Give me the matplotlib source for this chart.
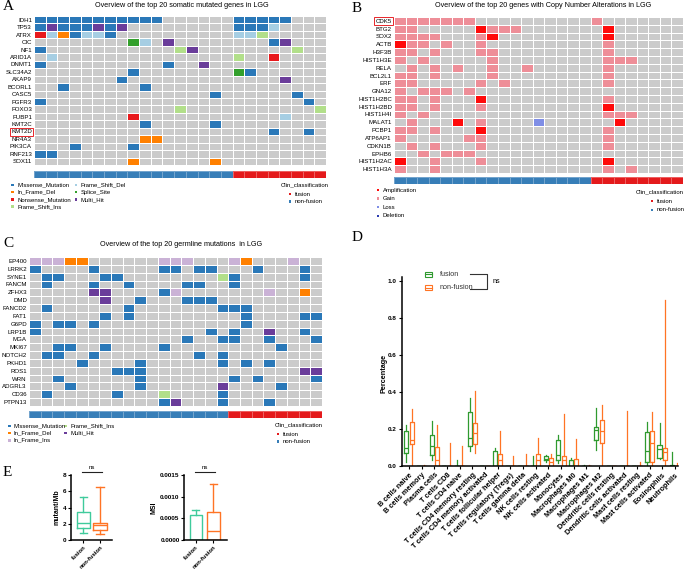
import matplotlib
matplotlib.use('Agg')
import matplotlib.pyplot as plt
from matplotlib.colors import ListedColormap
from matplotlib.patches import Rectangle
import numpy as np

plt.rcParams['font.family'] = ['Liberation Sans', 'DejaVu Sans']

W, H = 685, 569

# ---------------- data ----------------
# 17 non-fusion samples, then 8 fusion samples ('|' only marks the split)
clin = ['non-fusion'] * 17 + ['fusion'] * 8

somatic_genes = ['IDH1', 'TP53', 'ATRX', 'CIC', 'NF1', 'ARID1A', 'DNMT1', 'SLC34A2', 'AKAP9',
                 'BCORL1', 'CASC5', 'FGFR3', 'FOXO3', 'FUBP1', 'KMT2C', 'KMT2D', 'NR4A3',
                 'PIK3CA', 'RNF213', 'SOX11']
somatic_rows = [
    'MMMMMMMMMMM......|MMMMM...',
    'MHMMMHMH.........|MMMF....',
    'NFDMFFM..........|FFI.....',
    '........SF.H.....|...MH...',
    'M...........IH...|.....I..',
    '.F...............|I..N....',
    'M..........M..H..|........',
    '........M........|SM......',
    '.......M.........|....H...',
    '..M......M.......|........',
    '...............M.|.....M..',
    'M................|......M.',
    '............I....|.......I',
    '........N........|....F...',
    '.........M.....M.|........',
    '.................|...M..M.',
    '.........DD......|........',
    '...M....M........|........',
    'MM...............|........',
    '........D......D.|........',
]

cnv_genes = ['CDK5', 'BTG2', 'SOX2', 'ACTB', 'H3F3B', 'HIST1H3E', 'RELA', 'BCL2L1', 'ERF',
             'GNA12', 'HIST1H2BC', 'HIST1H2BD', 'HIST1H4I', 'MALAT1', 'PCBP1', 'ATP6AP1',
             'CDKN1B', 'EPHB6', 'HIST1H2AC', 'HIST1H3A']
cnv_rows = [
    'GGGGGGG..........|G.......',
    'GG.....AGGG......|.A......',
    'GGGG...GA........|.A......',
    'AGG.G..G.........|.G......',
    'GG.G...GG........|.G......',
    'G.G.....G........|.GGG....',
    '.G.G.G..G..G.....|.G......',
    'GG.G....G........|.G......',
    'GG.....G.G.......|.G......',
    'G.GGG.G..........|........',
    'GG.G...A.........|.G......',
    'GG.G...G.........|.A......',
    'G.G..............|.GGG....',
    '.G...A.G....L....|..A.....',
    'GG.G...A.........|.G......',
    'G.....GG.........|.G......',
    '.G.G...G.........|.G......',
    '..G.GGG..........|........',
    'A..G...G.........|.A......',
    'G..G.............|.G.G....',
]

germ_genes = ['EP400', 'LRRK2', 'SYNE1', 'FANCM', 'ZFHX3', 'DMD', 'FANCD2', 'FAT1', 'G6PD',
              'LRP1B', 'MGA', 'MKI67', 'NOTCH2', 'PKHD1', 'ROS1', 'WRN', 'ADGRL3', 'CD36',
              'PTPN13']
germ_rows = [
    'LLLDD......LLL...|LD...L..',
    'M....M.....MM.MM.|..M...M.',
    '.MM...MM........I|M.....M.',
    '.M...M..M....MM..|M.......',
    '.....HH....ML....|...L..D.',
    '......H..M...MMM.|........',
    '.M......M.......M|MM......',
    '......M.M........|.M....MM',
    'M.MM.M...........|.M......',
    'M..............M.|M..H..M.',
    '.............M..M|M..M...M',
    '..MM..M....M.....|....M...',
    '.MM..M........M.M|........',
    '....M....M......M|.M.M....',
    '.......MMM.......|......HH',
    '..M......M.......|M.M....M',
    '...M.....M......H|....M...',
    '.M.....M...I....M|........',
    '...........MH...M|...M....',
]

mut_names = {'M': 'Missense_Mutation', 'D': 'In_Frame_Del', 'N': 'Nonsense_Mutation',
             'I': 'Frame_Shift_Ins', 'F': 'Frame_Shift_Del', 'S': 'Splice_Site',
             'H': 'Multi_Hit', 'L': 'In_Frame_Ins'}
cnv_names = {'A': 'Amplification', 'G': 'Gain', 'L': 'Loss', 'X': 'Deletion'}

cells = ['B cells naive', 'B cells memory', 'Plasma cells', 'T cells CD8', 'T cells CD4 naive',
         'T cells CD4 memory resting', 'T cells CD4 memory activated',
         'T cells follicular helper', 'T cells regulatory (Tregs)', 'T cells gamma delta',
         'NK cells resting', 'NK cells activated', 'Monocytes', 'Macrophages M0',
         'Macrophages M1', 'Macrophages M2', 'Dendritic cells resting',
         'Dendritic cells activated', 'Mast cells resting', 'Mast cells activated',
         'Eosinophils', 'Neutrophils']
# (min, q1, median, q3, max)
fusion_cells = [
    (0.02, 0.07, 0.10, 0.19, 0.22), (0, 0, 0, 0, 0), (0.035, 0.06, 0.11, 0.17, 0.245),
    (0, 0, 0, 0, 0), (0, 0, 0, 0, 0.03), (0.08, 0.11, 0.15, 0.29, 0.365), (0, 0, 0, 0, 0),
    (0, 0, 0, 0.08, 0.10), (0, 0, 0, 0, 0), (0, 0, 0, 0, 0), (0, 0, 0, 0, 0.055),
    (0.02, 0.03, 0.04, 0.055, 0.06), (0.015, 0.03, 0.06, 0.14, 0.17), (0, 0, 0, 0.03, 0.045),
    (0, 0, 0, 0, 0.008), (0.085, 0.14, 0.195, 0.21, 0.315), (0, 0, 0, 0, 0), (0, 0, 0, 0, 0),
    (0, 0, 0, 0, 0), (0, 0.02, 0.08, 0.185, 0.24), (0.04, 0.045, 0.09, 0.115, 0.23),
    (0, 0, 0, 0.005, 0.075),
]
nonfusion_cells = [
    (0, 0.12, 0.14, 0.24, 0.31), (0, 0, 0, 0, 0.003), (0, 0, 0.03, 0.105, 0.22),
    (0, 0, 0, 0, 0.125), (0, 0, 0, 0, 0.11), (0.07, 0.12, 0.18, 0.235, 0.405), (0, 0, 0, 0, 0),
    (0, 0, 0.03, 0.065, 0.19), (0, 0, 0, 0, 0.055), (0, 0, 0, 0, 0.065), (0, 0, 0.03, 0.065, 0.15),
    (0, 0, 0.02, 0.045, 0.065), (0, 0, 0.035, 0.055, 0.28), (0, 0, 0, 0.04, 0.145),
    (0, 0, 0, 0, 0.008), (0, 0.125, 0.19, 0.25, 0.33), (0, 0, 0, 0, 0), (0, 0, 0, 0, 0.295),
    (0, 0, 0, 0, 0.02), (0, 0.02, 0.125, 0.19, 0.29), (0, 0.035, 0.075, 0.10, 0.90),
    (0, 0, 0, 0, 0.015),
]

groups = ['fusion', 'non-fusion']
tmb_stats = [(0.9, 1.45, 2.05, 3.5, 5.3), (0.8, 1.25, 1.8, 2.05, 6.55)]
msi_stats = [(0, 0, 0, 0.00058, 0.0007), (0, 0, 0.0002, 0.00065, 0.0013)]

# ---------------- styles ----------------
gray = '#cbcbcb'
mut_colors = {'M': '#2a78b8', 'D': '#ff8000', 'N': '#e8191c', 'I': '#b2df8a',
              'F': '#a6cee3', 'S': '#33a02c', 'H': '#6a3d9a', 'L': '#cab2d6'}
cnv_colors = {'A': '#ff0a0a', 'G': '#ee8e98', 'L': '#7f8ee6', 'X': '#2b3bb0'}
clin_colors = {'fusion': '#e41a1c', 'non-fusion': '#377eb8'}
green, orange = '#2f9a2f', '#ff7424'
teal = '#3fcb9c'

fig = plt.figure(figsize=(W / 100, H / 100), dpi=100)


def axes_px(x, y, w, h):
    return fig.add_axes([x / W, 1 - (y + h) / H, w / W, h / H])


# overlay in pixel coordinates for titles, labels and legends
ov = axes_px(0, 0, W, H)
ov.set_xlim(0, W)
ov.set_ylim(H, 0)
ov.axis('off')


def oncoplot(box, bar_y, genes, rows, colors, boxed=None):
    x, y, w, h = box
    ax = axes_px(x, y, w, h)
    keys = '.' + ''.join(colors)
    mat = np.array([[keys.index(c) for c in r.replace('|', '')] for r in rows])
    cmap = ListedColormap([gray] + list(colors.values()))
    ax.pcolormesh(mat, cmap=cmap, vmin=-0.5, vmax=len(keys) - 0.5,
                  edgecolors='white', linewidth=0.7)
    ax.set_xlim(0, mat.shape[1])
    ax.set_ylim(len(genes), 0)
    ax.set_yticks(np.arange(len(genes)) + 0.5, labels=genes, fontsize=4.4)
    ax.set_xticks([])
    ax.tick_params(length=0, pad=1.5)
    for s in ax.spines.values():
        s.set_visible(False)
    if boxed:
        for t in ax.get_yticklabels():
            if t.get_text() == boxed:
                t.set_bbox(dict(boxstyle='square,pad=0.25', fc='none', ec='#e8262a', lw=0.7))
    bx = axes_px(x, bar_y, w, 7)
    grp = np.array([[groups.index(c) for c in clin]])
    bx.pcolormesh(grp, cmap=ListedColormap([clin_colors[g] for g in groups]),
                  vmin=-0.5, vmax=1.5, edgecolors=(1, 1, 1, 0.3), linewidth=0.5)
    bx.axis('off')


def legend_items(items, x, y0, dy, size=4.3):
    for i, (name, col) in enumerate(items):
        yy = y0 + i * dy
        ov.add_patch(Rectangle((x - 1.2, yy - 1.2), 2.4, 2.4, color=col, lw=0))
        ov.text(x + 4.5, yy, name, fontsize=size, va='center', ha='left')


def clin_legend(x, y, mx, dy, ha='left'):
    ov.text(x, y, 'Clin_classification', fontsize=4.3, va='center', ha=ha)
    legend_items([('fusion', clin_colors['fusion']),
                  ('non-fusion', clin_colors['non-fusion'])], mx, y + 9, dy)


panel_font = dict(family=['Liberation Serif', 'DejaVu Serif'], fontsize=11, va='center')
title_font = dict(fontsize=5.2, ha='center', va='center')

# ---------------- A ----------------
ov.text(3, 6, 'A', **panel_font)
ov.text(182, 5, 'Overview of the top 20 somatic mutated genes in LGG', **title_font)
oncoplot((34, 16, 292, 149), 171, somatic_genes, somatic_rows,
         {k: mut_colors[k] for k in 'MDNIFSH'}, boxed='KMT2D')
legend_items([(mut_names[k], mut_colors[k]) for k in 'MDNI'], 12.7, 185, 7.2)
legend_items([(mut_names[k], mut_colors[k]) for k in 'FSH'], 76, 185, 7.2)
clin_legend(281, 185, 290, 7.4)

# ---------------- B ----------------
ov.text(352, 8, 'B', **panel_font)
ov.text(543, 5, 'Overview of the top 20 genes with Copy Number Alterations in LGG', **title_font)
oncoplot((394, 17, 289, 156), 177, cnv_genes, cnv_rows, cnv_colors, boxed='CDK5')
legend_items([(cnv_names[k], cnv_colors[k]) for k in 'AGLX'], 378, 190, 8.6)
clin_legend(684, 192, 652, 8.7, ha='right')

# ---------------- C ----------------
ov.text(3, 243, 'C', **panel_font)
ov.text(181, 244, 'Overview of the top 20 germline mutations  in LGG', **title_font)
oncoplot((29, 257, 293, 149), 411, germ_genes, germ_rows,
         {k: mut_colors[k] for k in 'MDLIH'})
legend_items([(mut_names[k], mut_colors[k]) for k in 'MDL'], 9.3, 425.7, 7.3)
legend_items([(mut_names[k], mut_colors[k]) for k in 'IH'], 65.7, 425.7, 7.3)
clin_legend(275, 425, 278.3, 7.6)

# ---------------- D ----------------
ov.text(352, 237, 'D', **panel_font)
ax = axes_px(402, 277.3, 276, 188.7)


def to_stats(rows):
    return [dict(whislo=a, q1=b, med=c, q3=d, whishi=e, fliers=[]) for a, b, c, d, e in rows]


pos = np.arange(len(cells))
for rows, col, off in [(fusion_cells, green, -0.21), (nonfusion_cells, orange, 0.21)]:
    ax.bxp(to_stats(rows), positions=pos + off, widths=0.32, showcaps=False,
           boxprops=dict(color=col, lw=0.9), whiskerprops=dict(color=col, lw=0.9),
           medianprops=dict(color=col, lw=0.9), manage_ticks=False)
ax.set_xlim(-0.55, len(cells) - 0.75)
ax.set_ylim(0, 1.02)
ax.set_yticks(np.arange(0, 1.01, 0.2))
ax.set_yticklabels([f'{v:.1f}' for v in np.arange(0, 1.01, 0.2)], fontsize=4.6, fontweight='bold')
ax.set_xticks(pos)
ax.set_xticklabels(cells, rotation=45, ha='right', va='top', rotation_mode='anchor',
                   fontsize=5.3, fontweight='bold')
ax.tick_params(length=2.5, width=0.8, pad=1.5)
for s in ['top', 'right']:
    ax.spines[s].set_visible(False)
for s in ['left', 'bottom']:
    ax.spines[s].set_linewidth(1.1)
ax.patch.set_alpha(0)
ov.text(384, 373, 'Percentage', rotation=90, fontsize=5.2, fontweight='bold', ha='center', va='center')
for i, (name, col) in enumerate([('fusion', green), ('non-fusion', orange)]):
    yy = 274.3 + i * 13.4
    ov.add_patch(Rectangle((425, yy - 2.6), 7.5, 5.2, fc='none', ec=col, lw=0.8))
    ov.plot([425, 432.5], [yy, yy], color=col, lw=0.8)
    ov.text(440, yy, name, fontsize=5.2, va='center', color='#333333')
ov.plot([470, 486.7, 486.7, 470], [274.3, 274.3, 289.3, 289.3], color='#333333', lw=0.8)
ov.text(493, 281, 'ns', fontsize=5.2, va='center')

# ---------------- E ----------------
ov.text(3, 472, 'E', **panel_font)


def small_box(box, stats_rows, xlim, width, ylim, ticks, fmt, ylabel, ns):
    x, y, w, h = box
    a = axes_px(x, y, w, h)
    for i, (row, col) in enumerate(zip(stats_rows, [teal, orange])):
        a.bxp(to_stats([row]), positions=[i], widths=width, capwidths=width * 0.55,
              boxprops=dict(color=col, lw=1.0), whiskerprops=dict(color=col, lw=1.0),
              capprops=dict(color=col, lw=1.0), medianprops=dict(color=col, lw=1.0),
              manage_ticks=False)
    a.set_xlim(*xlim)
    a.set_ylim(*ylim)
    a.set_yticks(ticks)
    a.set_yticklabels([fmt.format(t) for t in ticks], fontsize=4.6, fontweight='bold')
    a.set_xticks([0, 1])
    a.set_xticklabels(groups, rotation=45, ha='right', va='top', rotation_mode='anchor',
                      fontsize=4.2, fontweight='bold')
    a.set_ylabel(ylabel, fontsize=5, fontweight='bold', labelpad=2)
    a.tick_params(length=2.2, width=0.8, pad=1.0)
    for s in ['top', 'right']:
        a.spines[s].set_visible(False)
    for s in ['left', 'bottom']:
        a.spines[s].set_linewidth(1.1)
    a.patch.set_alpha(0)
    x0, x1, xn = ns
    ov.plot([x0, x1], [472.3, 472.3], color='#222222', lw=0.8)
    ov.text(xn, 467, 'ns', fontsize=4.3, ha='center', va='center')


small_box((71, 475, 41, 65), tmb_stats, (-0.74, 1.72), 0.8, (0, 8), [0, 2, 4, 6, 8],
          '{:d}', 'mutant/Mb', (81.7, 101.7, 91.5))
small_box((184, 475, 43, 65), msi_stats, (-0.69, 1.79), 0.73, (0, 0.0015),
          [0, 0.0005, 0.0010, 0.0015], '{:.4f}', 'MSI', (195, 215, 204.7))

fig.savefig('out.png', dpi=100)
